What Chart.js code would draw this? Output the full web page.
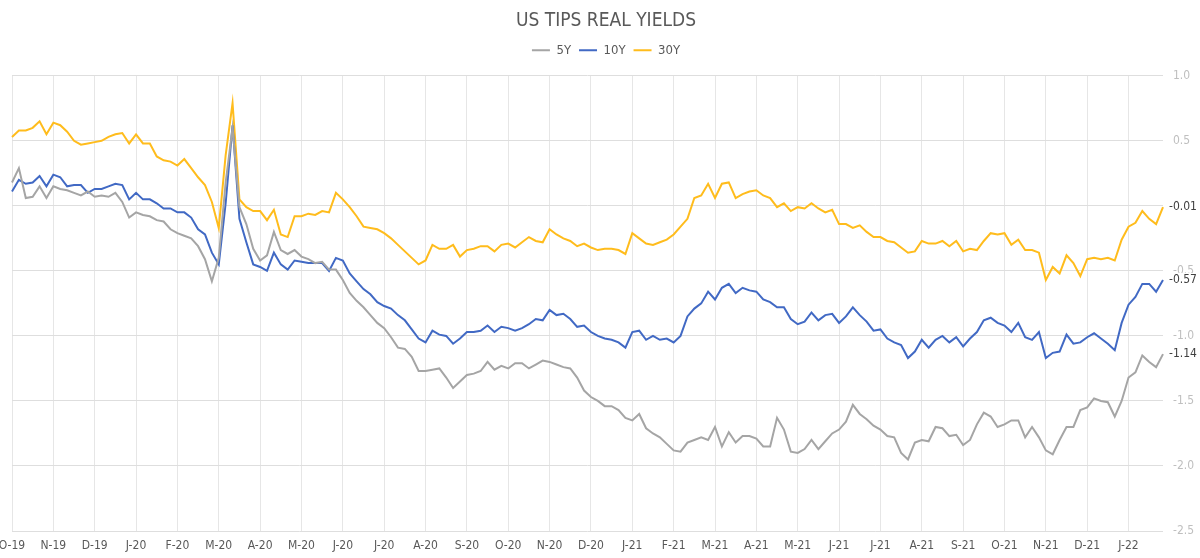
<!DOCTYPE html>
<html>
<head>
<meta charset="utf-8">
<title>US TIPS Real Yields</title>
<script src="https://cdn.jsdelivr.net/npm/chart.js@4.4.1/dist/chart.umd.min.js"></script>
<style>
  html, body { margin: 0; padding: 0; background: #fff; }
  #wrap { width: 1200px; height: 558px; }
</style>
</head>
<body>
<div id="wrap"><canvas id="tipsCanvas"></canvas></div>
<script>
// month tick labels, 6 observations per month
const months = ["O-19","N-19","D-19","J-20","F-20","M-20","A-20","M-20","J-20","J-20","A-20","S-20",
  "O-20","N-20","D-20","J-21","F-21","M-21","A-21","M-21","J-21","J-21","A-21","S-21","O-21","N-21","D-21","J-22"];
const perMonth = 6;

const yield5Y = [
  0.18,0.29,0.06,0.07,0.15,0.06, 0.15,0.13,0.12,0.10,0.08,0.11, 0.07,0.08,0.07,0.10,0.03,-0.09,
  -0.05,-0.07,-0.08,-0.11,-0.12,-0.18, -0.21,-0.23,-0.25,-0.31,-0.41,-0.58, -0.40,0.18,0.60,-0.01,-0.14,-0.33,
  -0.42,-0.38,-0.20,-0.34,-0.37,-0.34, -0.39,-0.41,-0.44,-0.43,-0.49,-0.49, -0.57,-0.67,-0.73,-0.78,-0.84,-0.90,
  -0.94,-1.01,-1.09,-1.10,-1.16,-1.27, -1.27,-1.26,-1.25,-1.32,-1.40,-1.35, -1.30,-1.29,-1.27,-1.20,-1.26,-1.23,
  -1.25,-1.21,-1.21,-1.25,-1.22,-1.19, -1.20,-1.22,-1.24,-1.25,-1.32,-1.42, -1.47,-1.50,-1.54,-1.54,-1.57,-1.63,
  -1.65,-1.60,-1.71,-1.75,-1.78,-1.83, -1.88,-1.89,-1.82,-1.80,-1.78,-1.80, -1.70,-1.85,-1.74,-1.82,-1.77,-1.77,
  -1.79,-1.85,-1.85,-1.63,-1.72,-1.89, -1.90,-1.87,-1.80,-1.87,-1.81,-1.75, -1.72,-1.66,-1.53,-1.60,-1.64,-1.69,
  -1.72,-1.77,-1.78,-1.90,-1.95,-1.82, -1.80,-1.81,-1.70,-1.71,-1.77,-1.76, -1.84,-1.80,-1.68,-1.59,-1.62,-1.70,
  -1.68,-1.65,-1.65,-1.78,-1.70,-1.78, -1.88,-1.91,-1.80,-1.70,-1.70,-1.57, -1.55,-1.48,-1.50,-1.51,-1.62,-1.50,
  -1.32,-1.28,-1.15,-1.20,-1.24,-1.14
];

const yield10Y = [
  0.11,0.20,0.17,0.18,0.23,0.15, 0.24,0.22,0.15,0.16,0.16,0.10, 0.13,0.13,0.15,0.17,0.16,0.05,
  0.10,0.05,0.05,0.02,-0.02,-0.02, -0.05,-0.05,-0.09,-0.18,-0.22,-0.36, -0.45,0.02,0.62,-0.10,-0.28,-0.45,
  -0.47,-0.50,-0.36,-0.45,-0.49,-0.42, -0.43,-0.44,-0.44,-0.44,-0.50,-0.40, -0.42,-0.52,-0.58,-0.64,-0.68,-0.74,
  -0.77,-0.79,-0.84,-0.88,-0.95,-1.02, -1.05,-0.96,-0.99,-1.00,-1.06,-1.02, -0.97,-0.97,-0.96,-0.92,-0.97,-0.93,
  -0.94,-0.96,-0.94,-0.91,-0.87,-0.88, -0.80,-0.84,-0.83,-0.87,-0.93,-0.92, -0.97,-1.00,-1.02,-1.03,-1.05,-1.09,
  -0.97,-0.96,-1.03,-1.00,-1.03,-1.02, -1.05,-1.00,-0.85,-0.79,-0.75,-0.66, -0.72,-0.63,-0.60,-0.67,-0.63,-0.65,
  -0.66,-0.72,-0.74,-0.78,-0.78,-0.87, -0.91,-0.89,-0.82,-0.88,-0.84,-0.83, -0.90,-0.85,-0.78,-0.84,-0.89,-0.96,
  -0.95,-1.02,-1.05,-1.07,-1.17,-1.12, -1.03,-1.09,-1.03,-1.00,-1.05,-1.01, -1.08,-1.02,-0.97,-0.88,-0.86,-0.90,
  -0.92,-0.97,-0.90,-1.01,-1.03,-0.97, -1.17,-1.13,-1.12,-0.99,-1.06,-1.05, -1.01,-0.98,-1.02,-1.06,-1.11,-0.90,
  -0.76,-0.70,-0.60,-0.60,-0.66,-0.57
];

const yield30Y = [
  0.53,0.58,0.58,0.60,0.65,0.55, 0.64,0.62,0.57,0.50,0.47,0.48, 0.49,0.50,0.53,0.55,0.56,0.48,
  0.55,0.48,0.48,0.38,0.35,0.34, 0.31,0.36,0.29,0.22,0.16,0.03, -0.17,0.39,0.79,0.05,-0.01,-0.04,
  -0.04,-0.11,-0.03,-0.22,-0.24,-0.08, -0.08,-0.06,-0.07,-0.04,-0.05,0.10, 0.05,-0.01,-0.08,-0.16,-0.17,-0.18,
  -0.21,-0.25,-0.30,-0.35,-0.40,-0.45, -0.42,-0.30,-0.33,-0.33,-0.30,-0.39, -0.34,-0.33,-0.31,-0.31,-0.35,-0.30,
  -0.29,-0.32,-0.28,-0.24,-0.27,-0.28, -0.18,-0.22,-0.25,-0.27,-0.31,-0.29, -0.32,-0.34,-0.33,-0.33,-0.34,-0.37,
  -0.21,-0.25,-0.29,-0.30,-0.28,-0.26, -0.22,-0.16,-0.10,0.06,0.08,0.17, 0.06,0.17,0.18,0.06,0.09,0.11,
  0.12,0.08,0.06,-0.01,0.02,-0.04, -0.01,-0.02,0.02,-0.02,-0.05,-0.03, -0.14,-0.14,-0.17,-0.15,-0.20,-0.24,
  -0.24,-0.27,-0.28,-0.32,-0.36,-0.35, -0.27,-0.29,-0.29,-0.27,-0.31,-0.27, -0.35,-0.33,-0.34,-0.27,-0.21,-0.22,
  -0.21,-0.30,-0.26,-0.34,-0.34,-0.36, -0.57,-0.47,-0.52,-0.38,-0.44,-0.54, -0.41,-0.40,-0.41,-0.40,-0.42,-0.26,
  -0.16,-0.13,-0.04,-0.10,-0.14,-0.01
];

const yTicks = [1.0, 0.5, 0.0, -0.5, -1.0, -1.5, -2.0, -2.5];

const seriesNames = ["5Y", "10Y", "30Y"];
const seriesColors = ["#a5a5a5", "#4169c4", "#ffbc1c"];

const labels = yield5Y.map((v, i) => (i % perMonth === 0 ? months[i / perMonth] : ""));

const textFont = "'Liberation Sans Narrow', 'DejaVu Sans Condensed', 'Roboto', sans-serif";

// a bit more room between legend and plot
const legendGap = {
  id: "legendGap",
  beforeInit(chart) {
    const fit = chart.legend.fit;
    chart.legend.fit = function () {
      fit.call(this);
      this.height += 9;
    };
  }
};

// value at the end of each line, drawn right of the plot
const endLabels = {
  id: "endLabels",
  afterDatasetsDraw(chart) {
    const ctx = chart.ctx;
    ctx.save();
    ctx.font = "12px " + textFont;
    ctx.textBaseline = "middle";
    chart.data.datasets.forEach((ds, i) => {
      const meta = chart.getDatasetMeta(i);
      const last = meta.data[meta.data.length - 1];
      const txt = ds.data[ds.data.length - 1].toFixed(2);
      const x = chart.chartArea.right + 6;
      const w = ctx.measureText(txt).width;
      ctx.fillStyle = "#ffffff";
      ctx.fillRect(x - 1, last.y - 7, w + 4, 14);
      ctx.fillStyle = "#404040";
      ctx.fillText(txt, x, last.y);
    });
    ctx.restore();
  }
};

const data = {
  labels: labels,
  datasets: [yield5Y, yield10Y, yield30Y].map((arr, i) => ({
    label: seriesNames[i],
    data: arr,
    borderColor: seriesColors[i],
    backgroundColor: seriesColors[i],
    borderWidth: 2,
    pointRadius: 0,
    tension: 0
  }))
};

new Chart(document.getElementById("tipsCanvas"), {
  type: "line",
  data: data,
  plugins: [legendGap, endLabels],
  options: {
    responsive: true,
    maintainAspectRatio: false,
    animation: false,
    layout: { padding: { left: 12, right: 0, top: 0, bottom: 0 } },
    plugins: {
      title: {
        display: true,
        text: "US TIPS REAL YIELDS",
        color: "#595959",
        font: { family: textFont, size: 19, weight: "normal" },
        padding: { top: 10, bottom: 3 }
      },
      legend: {
        display: true,
        labels: {
          color: "#595959",
          font: { family: textFont, size: 13 },
          usePointStyle: true,
          pointStyle: "line",
          pointStyleWidth: 18,
          boxHeight: 3,
          padding: 8
        }
      },
      tooltip: { enabled: false }
    },
    scales: {
      x: {
        type: "category",
        offset: false,
        afterBuildTicks: (axis) => {
          axis.ticks = axis.ticks.filter((t) => labels[t.value] !== "");
        },
        afterFit: (axis) => {
          axis.height = 27;
          axis.paddingLeft = 0;
        },
        grid: { color: "#e6e6e6", drawTicks: false },
        border: { display: false },
        ticks: {
          autoSkip: false,
          maxRotation: 0,
          padding: 8,
          color: "#595959",
          font: { family: textFont, size: 12 }
        }
      },
      y: {
        position: "right",
        min: -2.5,
        max: 1.0,
        afterBuildTicks: (axis) => {
          axis.ticks = yTicks.map((v) => ({ value: v }));
        },
        afterFit: (axis) => { axis.width = 37; },
        grid: { color: "#dedede", drawTicks: false },
        border: { display: false },
        ticks: {
          padding: 10,
          color: "#bfbfbf",
          font: { family: textFont, size: 12 },
          callback: (v) => Number(v).toFixed(1)
        }
      }
    }
  }
});
</script>
</body>
</html>
